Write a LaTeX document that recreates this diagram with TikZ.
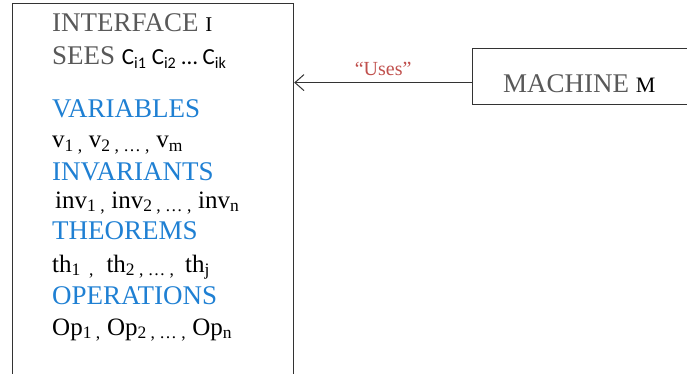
\documentclass[tikz,border=0pt]{standalone}
\usepackage{fontspec}
\setmainfont{Liberation Serif}
\newfontfamily\calibri{Carlito}
\usetikzlibrary{arrows.meta,positioning}
\definecolor{kwblue}{HTML}{1F80D3}
\definecolor{hdgrey}{HTML}{595959}
\definecolor{usesred}{HTML}{C0504D}
\newcommand{\rowsize}{\fontsize{25}{29}\selectfont}

\begin{document}
\begin{tikzpicture}[x=1pt, y=-1pt,
  box/.style={draw=black!80, line width=1.2pt, inner sep=0pt},
  title/.style={anchor=base west, inner sep=0pt, text=hdgrey, font=\fontsize{27}{31}\selectfont},
  keyword/.style={anchor=base west, inner sep=0pt, text=kwblue, font=\fontsize{27}{31}\selectfont},
  item/.style={anchor=base west, inner sep=0pt, text=black, font=\rowsize},
  edge/.style={-{Straight Barb[length=9pt,width=16pt]}, line width=1pt, black!80},
]
  \useasboundingbox (0,0) rectangle (687,374);

  % the two component boxes
  \node[box, anchor=north west, minimum width=281pt, minimum height=371pt] (iface) at (12,3) {};
  \node[box, anchor=north west, minimum width=240pt, minimum height=56pt] (machine) at (472,48) {};

  % interface clauses
  \node[title] (iname) at (52,32) {INTERFACE \textcolor{black}{\fontsize{21}{24}\selectfont I}};
  \node[title] (sees) at (52,65) {SEES {\calibri\fontsize{23}{26}\selectfont\color{black}C\textsubscript{i1} C\textsubscript{i2} … C\textsubscript{ik}}};
  \node[keyword] (vars) at (52,118) {VARIABLES};
  \node[item] (varlist) at (52,148) {v\textsubscript{1~,} v\textsubscript{2 ,~…~,} v\textsubscript{m}};
  \node[keyword] (invs) at (52,180) {INVARIANTS};
  \node[item] (invlist) at (55,208) {inv\textsubscript{1~,} inv\textsubscript{2 ,~…~,} inv\textsubscript{n}};
  \node[keyword] (thms) at (52,239) {THEOREMS};
  \node[item] (thmlist) at (52,272) {th\textsubscript{1~~,}~ th\textsubscript{2 , … ,~} th\textsubscript{j}};
  \node[keyword] (ops) at (52,304) {OPERATIONS};
  \node[item] (oplist) at (52,335) {Op\textsubscript{1 ,} Op\textsubscript{2 ,~…~,} Op\textsubscript{n}};

  % machine side
  \node[title] (mname) at (503,93) {MACHINE \textcolor{black}{\fontsize{22}{25}\selectfont M}};
  \coordinate (usesfrom) at ([yshift=-6pt]machine.west);
  \draw[edge] (usesfrom) -- node[above=3pt, text=usesred, font=\fontsize{20}{24}\selectfont] (uses) {“Uses”} (usesfrom -| iface.east);
\end{tikzpicture}
\end{document}
